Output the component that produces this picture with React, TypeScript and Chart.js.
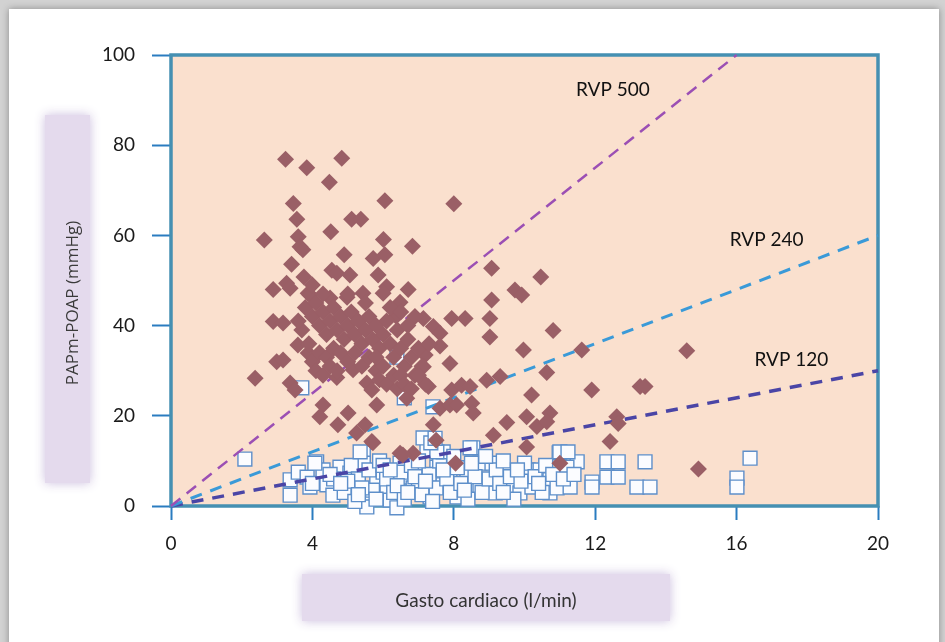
import React, { useEffect, useRef } from 'react';
import { Chart, registerables } from 'chart.js';

Chart.register(...registerables);

// ---- Data ----
const xTickValues = [0, 4, 8, 12, 16, 20];
const yTickValues = [0, 20, 40, 60, 80, 100];

const xTitle = 'Gasto cardiaco (l/min)';
const yTitle = 'PAPm-POAP (mmHg)';

// Hipertensión pulmonar (diamonds): [gasto cardiaco, PAPm-POAP]
const diamondPoints: number[][] = [
  [3.24, 76.9], [3.84, 75.0], [4.83, 77.1], [4.48, 71.8], [3.46, 67.1], [6.05, 67.7], [8.0, 67.0],
  [3.56, 63.6], [5.11, 63.6], [5.37, 63.6], [4.52, 60.8], [2.64, 59.0], [3.60, 59.7], [3.65, 57.5],
  [3.73, 56.8], [6.01, 59.1], [6.83, 57.6], [4.90, 55.7], [5.72, 54.9], [6.05, 55.7], [3.41, 53.6],
  [4.55, 52.3], [4.69, 51.6], [5.06, 51.2], [3.76, 50.8], [5.86, 51.2], [6.10, 48.6], [2.89, 48.0],
  [3.27, 49.4], [3.37, 48.3], [3.88, 47.2], [6.71, 48.0], [3.93, 46.8], [4.50, 46.1], [4.98, 46.3],
  [5.43, 47.2], [6.0, 47.2], [6.48, 45.2], [6.37, 42.1], [2.89, 40.9], [3.17, 40.6], [3.59, 35.7],
  [3.88, 33.9], [2.99, 32.0], [3.17, 32.4], [2.38, 28.3], [3.37, 27.3], [3.51, 25.7], [4.69, 28.5],
  [5.15, 30.2], [5.54, 27.3], [5.68, 25.7], [4.30, 22.4], [4.21, 19.8], [5.01, 20.6], [4.72, 18.0],
  [5.82, 22.4], [5.25, 16.2], [5.68, 14.3], [6.67, 23.9], [9.07, 52.7], [10.46, 50.8], [9.73, 47.9],
  [9.92, 46.8], [9.07, 45.7], [7.94, 41.6], [8.32, 41.6], [9.02, 41.6], [7.14, 41.6], [7.42, 39.8],
  [7.61, 38.3], [9.02, 37.5], [7.61, 35.5], [10.81, 38.9], [9.97, 34.6], [11.62, 34.6], [7.19, 33.5],
  [7.14, 30.9], [7.89, 31.6], [10.63, 29.6], [7.28, 26.5], [7.94, 25.7], [8.22, 26.8], [8.46, 26.5],
  [8.93, 27.9], [9.31, 28.7], [11.9, 25.7], [10.20, 24.6], [7.61, 21.7], [7.89, 22.4], [8.08, 22.4],
  [8.51, 22.8], [8.55, 20.6], [10.06, 19.8], [10.35, 17.6], [10.72, 20.6], [10.63, 18.7], [9.50, 18.5],
  [7.42, 18.0], [7.50, 14.6], [9.12, 15.7], [10.06, 13.1], [6.48, 11.7], [6.85, 11.7], [8.05, 9.5],
  [11.0, 9.5], [12.61, 19.8], [12.65, 18.3], [12.42, 14.3], [13.27, 26.5], [13.41, 26.5], [14.59, 34.4],
  [14.92, 8.2], [5.49, 18.0], [5.71, 14.0], [6.56, 11.3],
  [3.8, 44], [4.0, 42], [4.1, 45], [4.2, 40], [4.3, 43], [4.4, 38], [4.5, 41], [4.6, 44], [4.7, 39],
  [4.8, 42], [4.9, 37], [5.0, 40], [5.1, 43], [5.2, 38], [5.3, 41], [5.4, 36], [5.5, 39], [5.6, 42],
  [5.7, 37], [5.8, 40], [5.9, 35], [6.0, 38], [6.1, 41], [6.2, 36], [6.3, 33], [6.4, 39], [6.5, 35],
  [6.6, 31], [6.7, 37], [6.8, 33], [6.9, 29], [7.0, 35], [7.1, 31], [7.2, 27], [3.9, 36], [4.0, 32],
  [4.1, 30], [4.2, 34], [4.3, 29], [4.4, 33], [4.5, 31], [4.6, 35], [4.7, 30], [4.8, 34], [5.0, 32],
  [5.2, 34], [5.4, 31], [5.6, 33], [5.8, 30], [5.9, 28], [6.0, 31], [6.1, 27], [6.3, 29], [6.4, 26],
  [6.5, 29], [6.6, 27], [6.8, 26], [7.0, 29], [3.7, 39], [3.6, 41], [5.5, 45], [5.0, 47], [6.2, 44],
  [6.5, 43], [6.9, 42], [4.3, 47], [4.0, 49], [5.8, 33], [6.7, 40], [7.3, 36],
];

// Sin hipertensión pulmonar (squares)
const squarePoints: number[][] = [
  [2.09, 10.4], [3.37, 5.8], [3.37, 2.4], [3.6, 7.5], [3.85, 6.4], [4.12, 9.8], [3.93, 4.2], [4.41, 4.7],
  [4.58, 2.4], [4.78, 8.6], [5.06, 7.3], [5.25, 4.7], [5.44, 11.8], [5.44, 9.5], [5.54, 2.0], [5.54, -0.2],
  [5.82, 5.8], [6.0, 7.5], [6.11, 4.0], [6.2, 1.3], [6.39, -0.4], [6.48, 9.5], [6.67, 6.4], [6.85, 4.0],
  [6.96, 8.0], [7.13, 5.8], [7.24, 12.4], [7.33, 2.0], [7.52, 8.6], [7.69, 4.7], [7.89, 7.3], [8.09, 2.0],
  [8.37, 7.5], [8.54, 12.9], [8.46, 4.2], [8.74, 9.5], [9.08, 9.5], [8.74, 4.2], [9.17, 2.9], [9.5, 7.5],
  [9.59, 4.2], [9.87, 2.9], [10.1, 8.0], [10.21, 4.2], [10.44, 8.0], [10.72, 5.8], [10.72, 2.9],
  [10.92, 4.0], [10.98, 11.8], [11.29, 4.2], [11.49, 9.8], [11.2, 8.6], [11.91, 5.3], [11.91, 4.2],
  [12.33, 9.8], [12.65, 9.8], [12.33, 6.4], [12.65, 6.4], [13.41, 9.8], [13.18, 4.2], [13.55, 4.2],
  [16.38, 10.6], [16.01, 6.2], [16.01, 4.2],
  [4.0, 5], [4.3, 8], [4.6, 6], [4.9, 3], [5.1, 9], [5.3, 6], [5.6, 8], [5.7, 3.5], [5.9, 10], [6.1, 6],
  [6.3, 3], [6.5, 7.5], [6.6, 1.5], [6.8, 9], [7.0, 5], [7.1, 2.5], [7.3, 7], [7.5, 4], [7.6, 10], [7.8, 6],
  [7.9, 3], [8.1, 8.5], [8.2, 5], [8.4, 1.5], [8.6, 6.5], [8.8, 3], [9.0, 6], [9.2, 8], [9.3, 5], [9.6, 6.5],
  [9.7, 1.5], [9.9, 5.5], [10.0, 9.5], [10.3, 6.5], [10.5, 3], [10.6, 9], [10.8, 7], [11.1, 6], [5.0, 5.5],
  [5.4, 4], [6.0, 9], [6.9, 6.5], [7.7, 12], [8.0, 11], [8.9, 11], [9.4, 10], [5.2, 1], [6.4, 4.5], [7.2, 5.5],
  [3.7, 26.2], [6.39, 33.0], [6.6, 24.0], [7.41, 22.0], [7.13, 15.1], [7.52, 12.0], [7.35, 14.0],
  [7.47, 15.0], [8.46, 12.9], [11.0, 12.0], [11.23, 12.0], [5.35, 12.0], [4.07, 9.5],
  [4.5, 7], [4.8, 5], [5.3, 2.5], [5.8, 1.5], [6.2, 8], [6.7, 3], [7.0, 10], [7.4, 1], [7.7, 8], [8.3, 3.5],
  [8.5, 9.5], [9.4, 3], [9.8, 8], [10.4, 5], [11.4, 7],
];

// RVP iso-lines (endpoints)
const rvp500Line = [[0, 0], [16, 100]];
const rvp240Line = [[0, 0], [20, 60]];
const rvp120Line = [[0, 0], [20, 30]];

const rvpLabels = ['RVP 500', 'RVP 240', 'RVP 120'];
const rvpLabelX = [12.5, 16.85, 17.55];
const rvpLabelY = [92.2, 59.0, 32.4];

const toXY = (arr: number[][]) => arr.map(([x, y]) => ({ x, y }));

function softBox(ctx: CanvasRenderingContext2D, x: number, y: number, w: number, h: number) {
  ctx.save();
  ctx.shadowColor = 'rgba(200,186,220,0.95)';
  ctx.shadowBlur = 10;
  ctx.fillStyle = '#e4daed';
  ctx.fillRect(x + 5, y + 5, w - 10, h - 10);
  ctx.restore();
}

const decorPlugin = {
  id: 'decor',
  beforeDraw(chart: any) {
    const { ctx, chartArea: a, width, height } = chart;
    ctx.save();
    ctx.fillStyle = '#d2d2d2';
    ctx.fillRect(0, 0, width, height);
    ctx.shadowColor = 'rgba(0,0,0,0.35)';
    ctx.shadowBlur = 7;
    ctx.fillStyle = '#ffffff';
    ctx.fillRect(9, 9, width - 15, height);
    ctx.restore();

    softBox(ctx, 40, 110, 55, 378);
    softBox(ctx, 297, 569, 378, 57);

    ctx.save();
    ctx.fillStyle = '#fae0ce';
    ctx.fillRect(a.left, a.top, a.right - a.left, a.bottom - a.top);
    ctx.restore();
  },
  beforeDatasetsDraw(chart: any) {
    const { ctx, chartArea: a } = chart;
    ctx.save();
    ctx.strokeStyle = '#4590b2';
    ctx.lineWidth = 3.5;
    ctx.strokeRect(a.left, a.top, a.right - a.left, a.bottom - a.top);
    ctx.restore();
  },
  afterDatasetsDraw(chart: any) {
    const { ctx } = chart;
    const xs = chart.scales.x;
    const ys = chart.scales.y;
    ctx.save();
    ctx.fillStyle = '#111';
    ctx.font = '19px Lato, "Open Sans", sans-serif';
    ctx.textAlign = 'center';
    ctx.textBaseline = 'middle';
    rvpLabels.forEach((t, i) => {
      ctx.fillText(t, xs.getPixelForValue(rvpLabelX[i]), ys.getPixelForValue(rvpLabelY[i]));
    });

    ctx.fillStyle = '#333';
    ctx.font = '19px Lato, "Open Sans", sans-serif';
    ctx.fillText(xTitle, 486, 601);

    ctx.translate(73, 303);
    ctx.rotate(-Math.PI / 2);
    ctx.fillStyle = '#3a3a3a';
    ctx.font = '17px "Open Sans", Lato, sans-serif';
    ctx.fillText(yTitle, 0, 0);
    ctx.restore();
  },
};

export default function App() {
  const ref = useRef<HTMLCanvasElement | null>(null);

  useEffect(() => {
    if (!ref.current) return;
    const tickFont = { family: 'Lato, "Open Sans", sans-serif', size: 19 };
    const chart = new Chart(ref.current, {
      type: 'scatter',
      data: {
        datasets: [
          {
            label: 'HP',
            data: toXY(diamondPoints),
            pointStyle: 'rectRot',
            pointRadius: 8.5,
            pointBackgroundColor: '#9a5f66',
            pointBorderWidth: 0,
            borderWidth: 0,
            order: 0,
            clip: false,
          } as any,
          {
            type: 'line',
            label: 'RVP 500',
            data: toXY(rvp500Line),
            borderColor: '#9b4fb4',
            borderWidth: 2.5,
            borderDash: [12, 8],
            pointRadius: 0,
            fill: false,
            order: 1,
            clip: false,
          } as any,
          {
            type: 'line',
            label: 'RVP 240',
            data: toXY(rvp240Line),
            borderColor: '#3a9ad8',
            borderWidth: 3,
            borderDash: [12, 9],
            pointRadius: 0,
            fill: false,
            order: 1,
            clip: false,
          } as any,
          {
            type: 'line',
            label: 'RVP 120',
            data: toXY(rvp120Line),
            borderColor: '#4a45a6',
            borderWidth: 3.5,
            borderDash: [12, 9],
            pointRadius: 0,
            fill: false,
            order: 1,
            clip: false,
          } as any,
          {
            label: 'Normal',
            data: toXY(squarePoints),
            pointStyle: 'rect',
            pointRadius: 9.8,
            pointBackgroundColor: '#fbfcff',
            pointBorderColor: '#5e8fca',
            pointBorderWidth: 1.4,
            order: 2,
            clip: false,
          } as any,
        ],
      },
      options: {
        responsive: false,
        animation: false,
        events: [],
        layout: { padding: { left: 0, top: 55, right: 67, bottom: 0 } },
        plugins: { legend: { display: false }, tooltip: { enabled: false }, title: { display: false } },
        scales: {
          x: {
            type: 'linear',
            min: 0,
            max: 20,
            afterBuildTicks: (s: any) => { s.ticks = xTickValues.map((v) => ({ value: v })); },
            afterFit: (s: any) => { s.height = 136; },
            ticks: { font: tickFont, color: '#1a1a1a', padding: 12 },
            grid: { drawOnChartArea: false, drawTicks: true, tickLength: 14, tickColor: '#2a7cc0', tickWidth: 2 },
            border: { display: false },
          },
          y: {
            type: 'linear',
            min: 0,
            max: 100,
            afterBuildTicks: (s: any) => { s.ticks = yTickValues.map((v) => ({ value: v })); },
            afterFit: (s: any) => { s.width = 171; },
            ticks: { font: tickFont, color: '#1a1a1a', padding: 17 },
            grid: { drawOnChartArea: false, drawTicks: true, tickLength: 19, tickColor: '#2a7cc0', tickWidth: 2 },
            border: { display: false },
          },
        },
      },
      plugins: [decorPlugin],
    });
    return () => chart.destroy();
  }, []);

  return (
    <div style={{ position: 'absolute', left: 0, top: 0, width: 945, height: 642 }}>
      <canvas ref={ref} width={945} height={642} style={{ display: 'block', width: 945, height: 642 }} />
    </div>
  );
}
